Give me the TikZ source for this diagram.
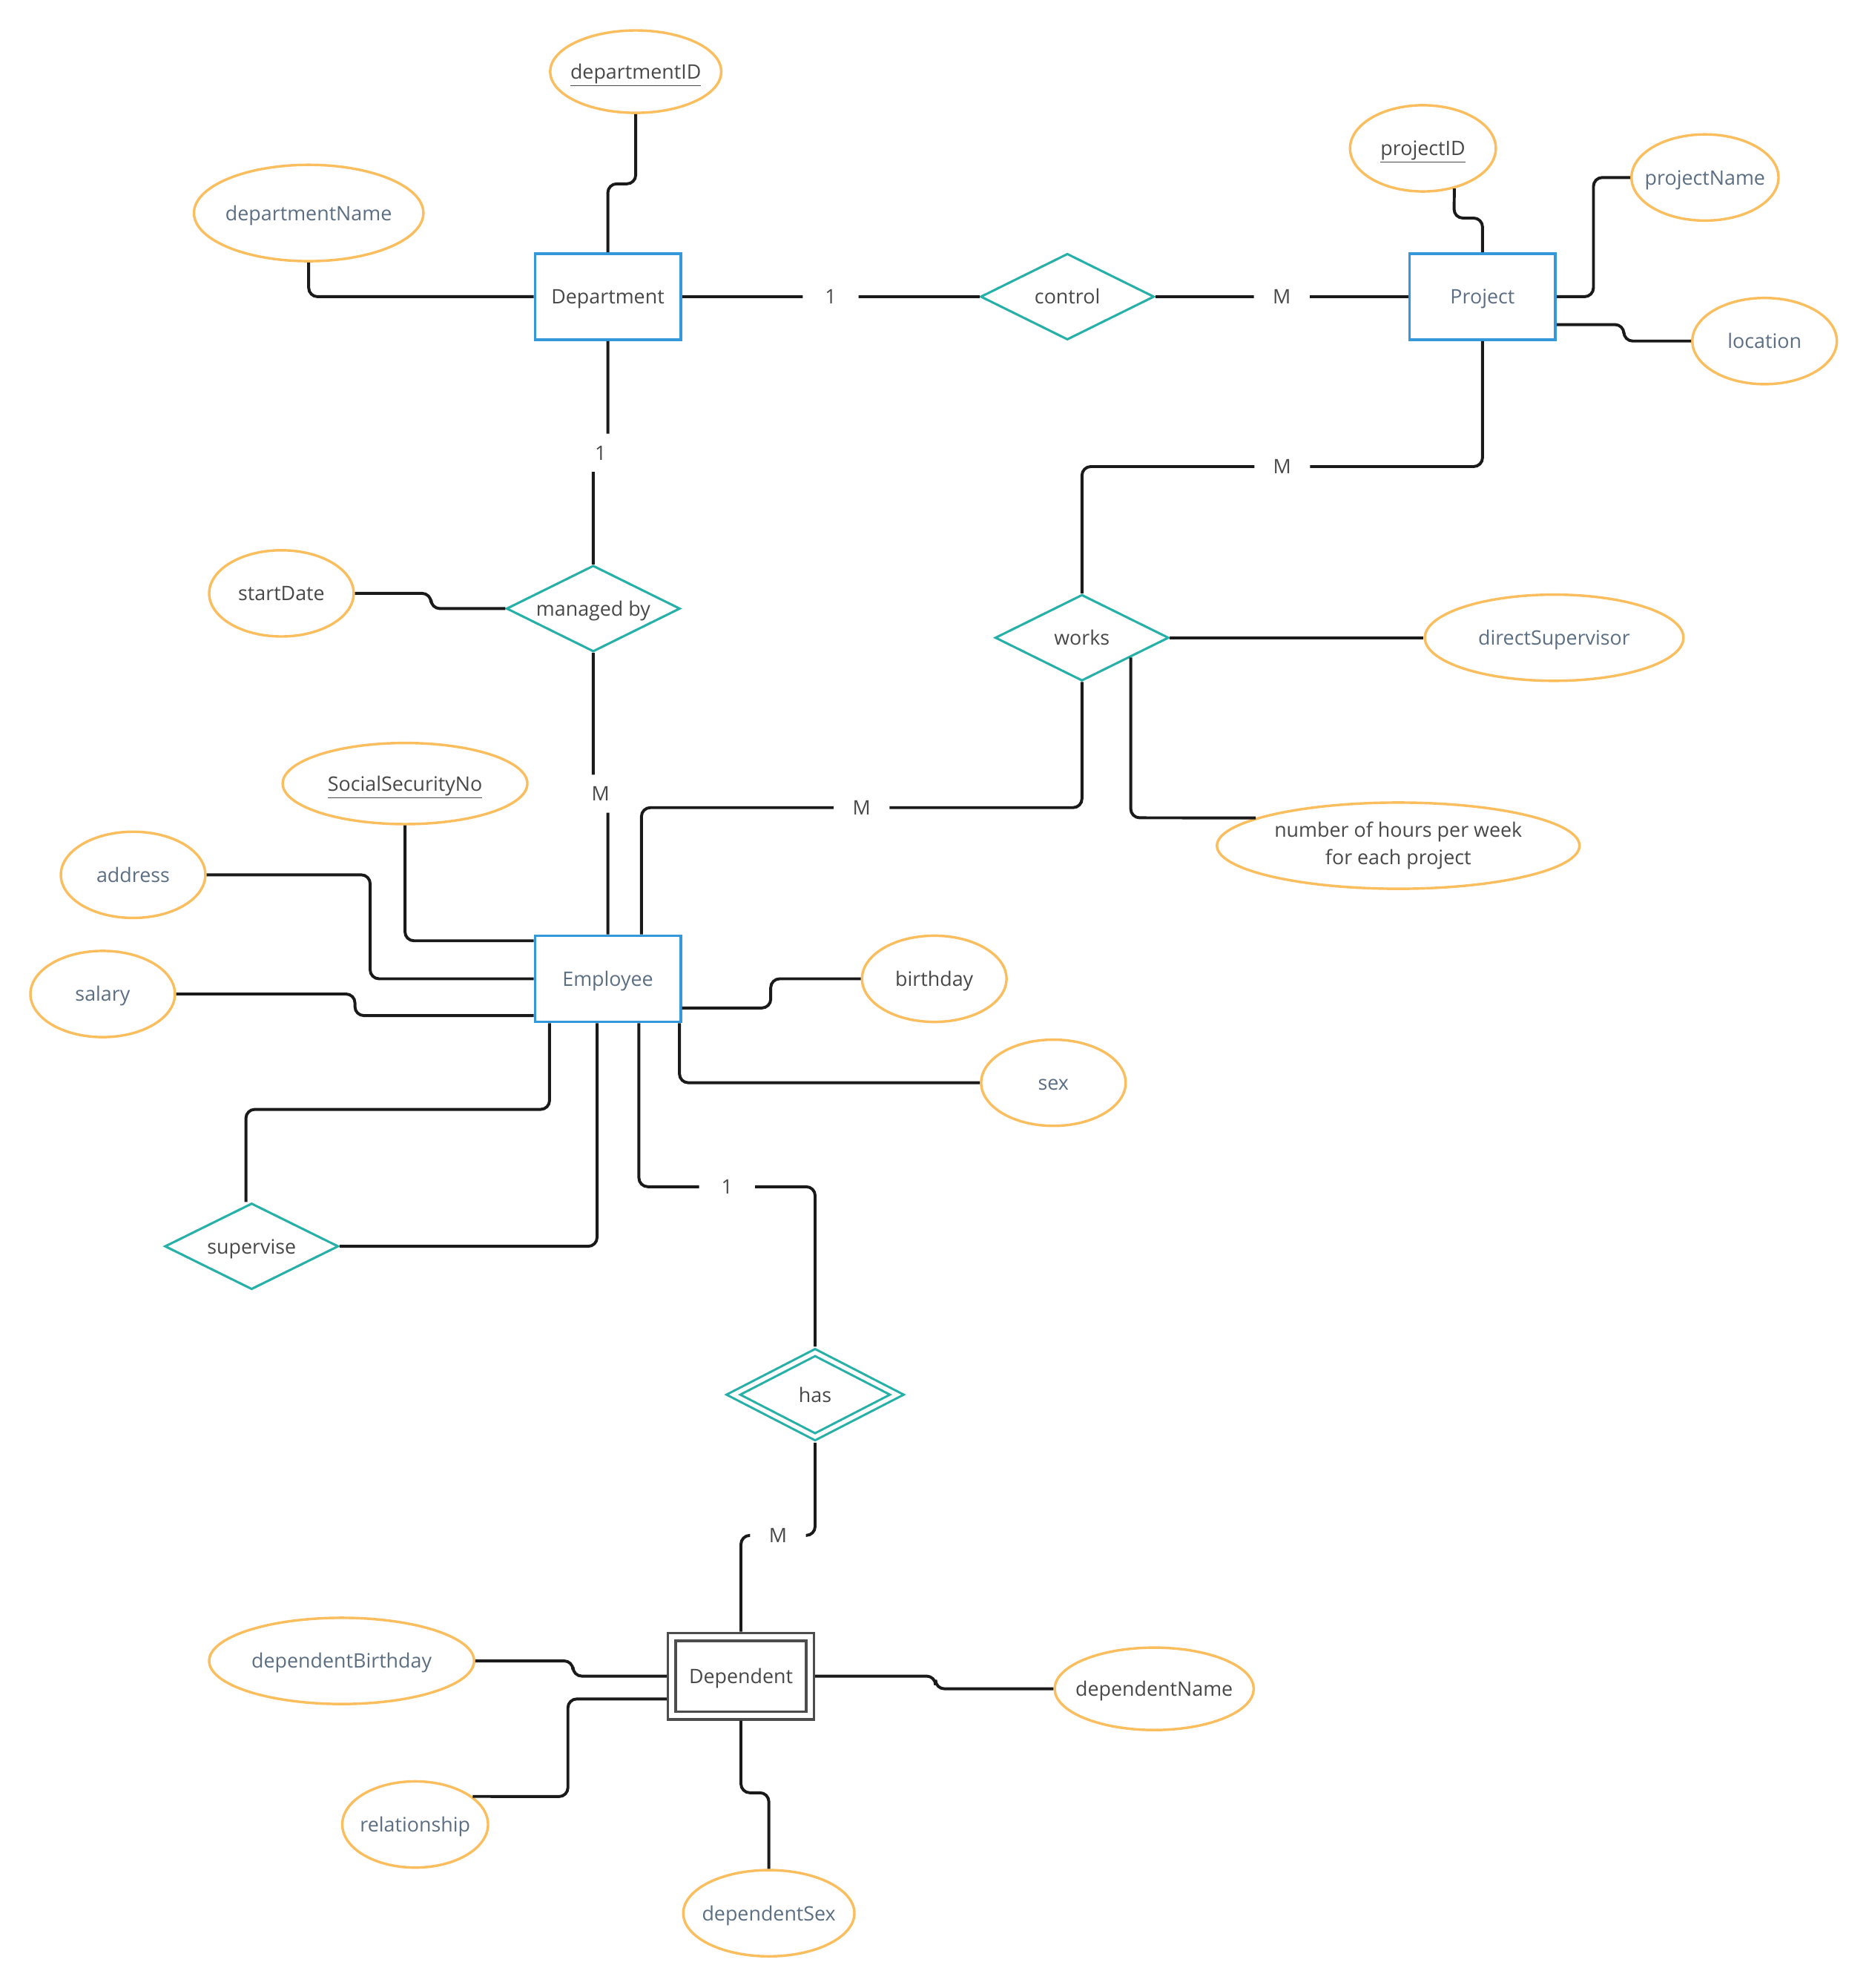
\documentclass[tikz,border=0pt]{standalone}
\usepackage{fontspec}
\setmainfont{Open Sans}
\usepackage{tikz}
\usetikzlibrary{shapes.geometric}
\definecolor{entityblue}{RGB}{52,152,219}
\definecolor{relteal}{RGB}{38,176,168}
\definecolor{attrorange}{RGB}{250,190,95}
\definecolor{textdark}{RGB}{72,72,72}
\definecolor{textslate}{RGB}{92,110,130}
\definecolor{weakgray}{RGB}{77,77,77}
\definecolor{linkblack}{RGB}{26,26,26}
\tikzstyle{every node}=[font=\fontsize{15.7}{21.5}\selectfont, text=textdark, inner sep=0pt]

\begin{document}
\begin{tikzpicture}[
        x=1pt, y=-1pt,
        oneline/.style={
                text height=15pt,
                text depth=3.4pt
            },
        entity/.style={
                oneline,
                draw=entityblue,
                line width=2pt,
                fill=white,
                minimum width=115pt,
                minimum height=68pt
            },
        weakentity/.style={
                oneline,
                draw=weakgray,
                line width=2pt,
                double=white,
                double distance=4.2pt,
                outer sep=4.1pt,
                fill=white,
                minimum width=109pt,
                minimum height=62pt
            },
        relation/.style={
                oneline,
                diamond,
                aspect=2,
                draw=relteal,
                line width=1.8pt,
                fill=white,
                minimum width=137pt,
                minimum height=68pt
            },
        weakrelation/.style={
                relation,
                double=white,
                double distance=3.1pt,
                outer sep=3.35pt,
                minimum width=131.7pt,
                minimum height=69.2pt
            },
        attrshape/.style={
                ellipse,
                draw=attrorange,
                line width=2pt,
                fill=white,
                inner xsep=-15pt,
                minimum width=114pt,
                minimum height=68pt
            },
        attribute/.style={
                attrshape,
                oneline
            },
        card/.style={
                oneline,
                fill=white,
                minimum width=44pt,
                minimum height=30pt
            },
        link/.style={
                draw=linkblack,
                line width=2.3pt,
                rounded corners=7pt
            },
        slate/.style={text=textslate}
    ]
    \useasboundingbox (0,0) rectangle (1474,1568);

    %entities
    \node[entity] (dept) at (479.5,234) {Department};
    \node[entity, slate] (proj) at (1169.5,234) {Project};
    \node[entity, slate] (emp) at (479.5,772) {Employee};
    \node[weakentity] (dep) at (584.5,1322) {Dependent};

    %relationships
    \node[relation] (control) at (842,234) {control};
    \node[relation] (managed) at (468,480) {managed by};
    \node[relation] (works) at (853.5,503) {works};
    \node[relation] (supervise) at (198.5,983) {supervise};
    \node[weakrelation] (has) at (643,1100) {has};

    %attributes
    \node[attribute, minimum width=135pt, minimum height=65pt] (deptid) at (501.5,56.5) {\underline{departmentID}};
    \node[attribute, slate, minimum width=181pt, minimum height=76pt] (deptname) at (243.5,168) {departmentName};
    \node[attribute, minimum width=115pt] (projid) at (1122.5,117) {\underline{projectID}};
    \node[attribute, slate, minimum width=116pt] (projname) at (1345,140) {projectName};
    \node[attribute, slate] (location) at (1392,269) {location};
    \node[attribute] (startdate) at (222,468) {startDate};
    \node[attribute, slate, minimum width=204pt] (supervisor) at (1226,503) {directSupervisor};
    \node[attrshape, align=center, minimum width=286pt] (hours) at (1103,667) {number of hours per week\\for each project};
    \node[attribute, minimum width=193pt, minimum height=64pt] (ssn) at (319.5,618) {\underline{SocialSecurityNo}};
    \node[attribute, slate] (address) at (105,690) {address};
    \node[attribute, slate] (salary) at (81,784) {salary};
    \node[attribute] (birthday) at (737,772) {birthday};
    \node[attribute, slate] (sex) at (831,854) {sex};
    \node[attribute, slate, minimum width=209pt] (depbirthday) at (269.5,1310) {dependentBirthday};
    \node[attribute, minimum width=157pt, minimum height=65pt] (depname) at (910.5,1332) {dependentName};
    \node[attribute, slate, minimum width=115pt] (relationship) at (327.5,1439) {relationship};
    \node[attribute, slate, minimum width=135pt] (depsex) at (606.5,1509) {dependentSex};

    %department and project
    \draw[link] (deptid.south) -- (501.5,145) -- (479.5,145) -- (dept.north);
    \draw[link] (deptname.south) -- (243.5,234) -- (dept.west);
    \draw[link] (dept.east) -- node[card]{1} (control.west);
    \draw[link] (control.east) -- node[card]{M} (proj.west);
    \draw[link] (projid.-52) -- (1147,172) -- (1169.5,172) -- (proj.north);
    \draw[link] (proj.east) -- (1257,234) -- (1257,140) -- (projname.west);
    \draw[link] ([yshift=-22pt]proj.east) -- (1281,256) -- (1281,269) -- (location.west);
    \draw[link] (proj.south) -- (1169.5,368) -- node[card]{M} (853.5,368) -- (works.north);
    \draw[link] (dept.south) -- (479.5,357) -- node[card]{1} (468,357) -- (managed.north);
    \draw[link] (startdate.east) -- (340,468) -- (340,480) -- (managed.west);

    %employee
    \draw[link] (managed.south) -- (468,626) -- node[card]{M} (479.5,626) -- (emp.north);
    \draw[link] (works.south) -- (853.5,637) -- node[card]{M} (506,637) -- ([xshift=26.5pt]emp.north);
    \draw[link] (works.east) -- (supervisor.west);
    \draw[link] (works.-22) -- (892,645) -- (hours.169);
    \draw[link] (ssn.south) -- (319.5,742) -- ([yshift=30pt]emp.west);
    \draw[link] (address.east) -- (292,690) -- (292,772) -- (emp.west);
    \draw[link] (salary.east) -- (280,784) -- (280,801) -- ([yshift=-29pt]emp.west);
    \draw[link] ([yshift=-23pt]emp.east) -- (608,795) -- (608,772) -- (birthday.west);
    \draw[link] ([xshift=-2pt]emp.south east) -- (536,854) -- (sex.west);
    \draw[link] ([xshift=-46pt]emp.south) -- (433.5,875) -- (194,875) -- ([xshift=-4.5pt]supervise.north);
    \draw[link] ([xshift=-8.5pt]emp.south) -- (471,983) -- (supervise.east);

    %dependent
    \draw[link] ([xshift=24.5pt]emp.south) -- (504,936) -- node[card]{1} (643,936) -- (has.north);
    \draw[link] (has.south) -- (643,1211) -- node[card]{M} (584.5,1211) -- (dep.north);
    \draw[link] (depbirthday.east) -- (452,1310) -- (452,1322) -- (dep.west);
    \draw[link] (relationship.26) -- (448,1417) -- (448,1340) -- ([yshift=-18pt]dep.west);
    \draw[link] (dep.east) -- (738,1322) -- (738,1332) -- (depname.west);
    \draw[link] (dep.south) -- (584.5,1414) -- (606.5,1414) -- (depsex.north);
\end{tikzpicture}
\end{document}
